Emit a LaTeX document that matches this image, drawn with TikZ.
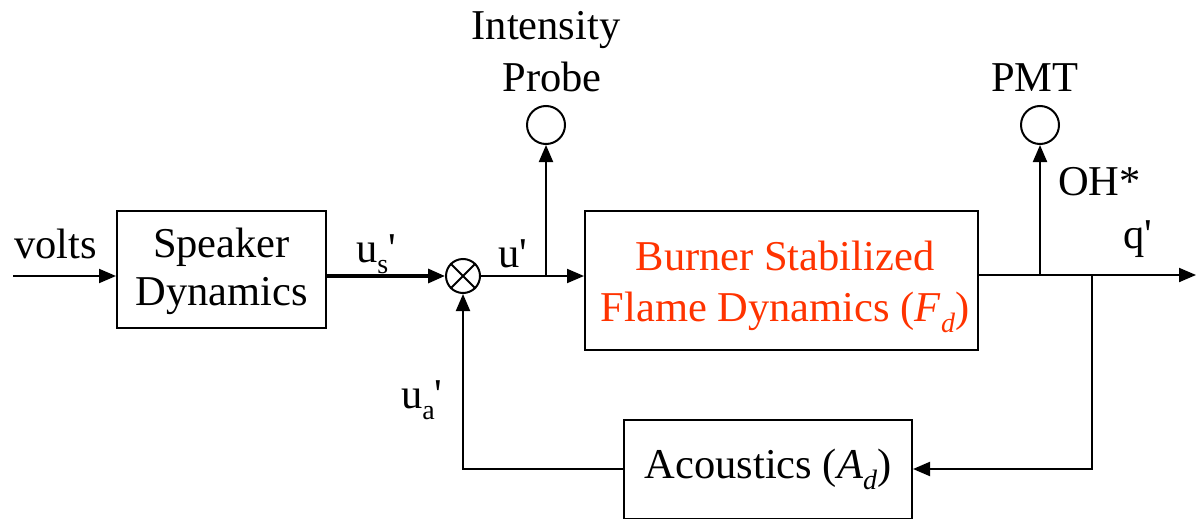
\documentclass[tikz,border=0pt]{standalone}
\usepackage{fontspec}
\setmainfont{Liberation Serif}
\usetikzlibrary{arrows.meta}
\definecolor{flamered}{RGB}{255,51,0}
\newcommand{\lowsub}[1]{\raisebox{-0.26em}{\fontsize{28}{28}\selectfont #1}}
\begin{document}
\begin{tikzpicture}[x=1pt,y=-1pt, line width=2pt,
  every node/.style={font=\fontsize{42.5}{48}\selectfont, inner sep=0pt},
  blk/.style={draw, align=center},
  arr/.style={-{Triangle[length=17pt,width=14pt]}},
  probe/.style={draw, circle, minimum size=38pt}]
\useasboundingbox (0,0) rectangle (1196,519);
\node[blk, minimum width=209pt, minimum height=117pt] (spk) at (221.5,269.5) {};
\node[align=center] (spkt) at (221.5,271) {Speaker\\Dynamics};
\node[blk, minimum width=393pt, minimum height=139pt] (fl) at (781.5,280.5) {};
\node[align=center, text=flamered, font=\fontsize{42.5}{51}\selectfont] (flt) at (785,287) {Burner Stabilized\\Flame Dynamics (\textit{F}\lowsub{\textit{d}})};
\node[blk, minimum width=288pt, minimum height=99pt] (ac) at (768,469) {Acoustics (\textit{A}\lowsub{\textit{d}})};
\node[draw, circle, minimum size=34pt] (sum) at (463,276) {};
\draw (sum.north west) -- (sum.south east) (sum.north east) -- (sum.south west);
\node[probe] (ip) at (546,125) {};
\node[probe] (pmt) at (1040,125) {};
\coordinate (vin) at (13,276);
\coordinate (out) at (1196,275);
\coordinate (b1) at (546,276);
\coordinate (b2) at (1040,275);
\coordinate (b3) at (1092,275);
\coordinate (fo) at (978,275);
\draw[arr] (vin) -- (vin -| spk.west);
\draw[arr, line width=3.2pt] (sum -| spk.east) -- (sum.west);
\draw[arr] (sum.east) -- (sum.east -| fl.west);
\draw[arr] (b1) -- (ip.south);
\draw[arr] (fo) -- (out);
\draw[arr] (b2) -- (pmt.south);
\draw[arr] (b3) |- (ac.east);
\draw[arr] (ac.west) -| (sum.south);
\node[anchor=base west] (lv) at (13,258) {volts};
\node[anchor=base west] (lus) at (355,262) {u\lowsub{s}\textquotesingle};
\node[anchor=base west] (lu) at (497,267) {u\textquotesingle};
\node[anchor=base west] (lua) at (400,408) {u\lowsub{a}\textquotesingle};
\node[anchor=base] (lint) at (546,40) {Intensity};
\node[anchor=base] (lpr) at (552,92) {Probe};
\node[anchor=base] (lpmt) at (1035,92) {PMT};
\node[anchor=base west] (loh) at (1057,195) {OH*};
\node[anchor=base west] (lq) at (1122,248) {q\textquotesingle};
\end{tikzpicture}
\end{document}
